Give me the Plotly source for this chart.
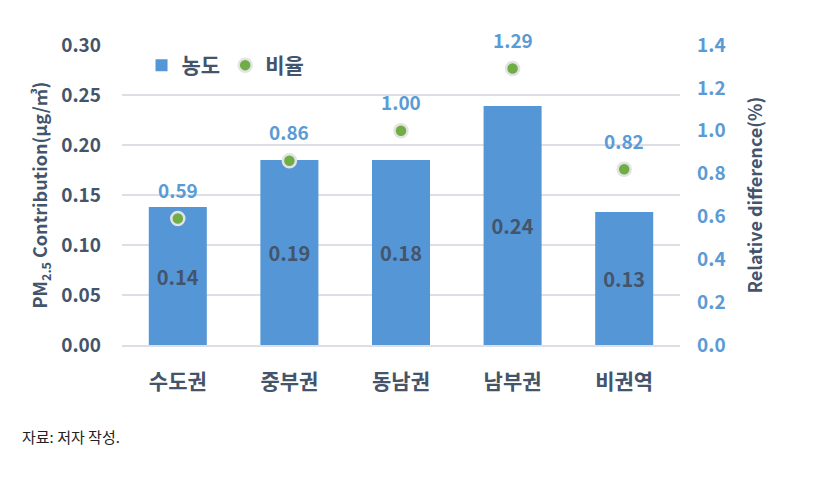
import plotly.graph_objects as go

regions = ["수도권", "중부권", "동남권", "남부권", "비권역"]
concentration = [0.138, 0.185, 0.185, 0.239, 0.133]
conc_labels = ["0.14", "0.19", "0.18", "0.24", "0.13"]
ratio = [0.59, 0.86, 1.00, 1.29, 0.82]
ratio_labels = ["0.59", "0.86", "1.00", "1.29", "0.82"]
left_ticks = [0.0, 0.05, 0.10, 0.15, 0.20, 0.25, 0.30]
right_ticks = [0.0, 0.2, 0.4, 0.6, 0.8, 1.0, 1.2, 1.4]

DARK = "#44546A"
BLUE = "#5B9BD5"
GRID = "#DCE0E6"
FONT = "Noto Sans CJK KR"

fig = go.Figure()
fig.add_trace(go.Bar(
    x=regions, y=concentration, name="<b>농도</b>",
    marker=dict(color="#5596D6", line=dict(width=0)),
    width=0.52,
    text=conc_labels, textposition="inside", insidetextanchor="middle",
    textfont=dict(family=FONT, size=20, color=DARK),
    texttemplate="<b>%{text}</b>",
    yaxis="y",
))
fig.add_trace(go.Scatter(
    x=regions, y=ratio, name="<b>비율</b>", mode="markers",
    marker=dict(color="#70AD47", size=13, line=dict(color="#E3E3E3", width=2.5)),
    cliponaxis=False,
    yaxis="y2",
))

for r, v, t in zip(regions, ratio, ratio_labels):
    fig.add_annotation(
        x=r, y=v, xref="x", yref="y2", text="<b>%s</b>" % t,
        showarrow=False, yshift=29,
        font=dict(family=FONT, size=19, color=BLUE),
    )

fig.update_layout(
    width=836, height=484,
    margin=dict(l=122, r=156, t=45, b=139),
    paper_bgcolor="white", plot_bgcolor="white",
    font=dict(family=FONT, color=DARK),
    bargap=0.48,
    showlegend=True,
    legend=dict(
        orientation="h", x=0.035, y=1.0, xanchor="left", yanchor="top",
        font=dict(family=FONT, size=21, color=DARK),
        bgcolor="rgba(0,0,0,0)", itemwidth=30, tracegroupgap=0,
    ),
    xaxis=dict(
        tickfont=dict(family=FONT, size=21, color=DARK),
        showgrid=False, showline=True, linecolor=GRID, linewidth=2,
        ticks="", tickprefix="<b>", ticksuffix="</b>",
        ticklabelstandoff=17,
    ),
    yaxis=dict(
        range=[0, 0.30], tickvals=left_ticks,
        ticktext=["<b>%.2f</b>" % v for v in left_ticks],
        tickfont=dict(family=FONT, size=19, color=DARK),
        showgrid=True, gridcolor=GRID, gridwidth=2,
        zeroline=False, ticks="", ticklabelstandoff=20,
        title=dict(text="<b>PM<sub>2.5</sub> Contribution(μg/㎥)</b>",
                   font=dict(family=FONT, size=18, color=DARK), standoff=8),
    ),
    yaxis2=dict(
        range=[0, 1.4], tickvals=right_ticks,
        ticktext=["<b>%.1f</b>" % v for v in right_ticks],
        tickfont=dict(family=FONT, size=19, color=BLUE),
        overlaying="y", side="right", showgrid=False, zeroline=False,
        ticks="", ticklabelstandoff=16,
        title=dict(text="<b>Relative difference(%)</b>",
                   font=dict(family=FONT, size=18, color=DARK), standoff=24),
    ),
)

fig.add_annotation(
    text="자료: 저자 작성.", xref="paper", yref="paper",
    x=-0.182, y=-0.262, xanchor="left", yanchor="top", showarrow=False,
    font=dict(family=FONT, size=15, color="#222222"),
)

fig.write_html("out.html")
